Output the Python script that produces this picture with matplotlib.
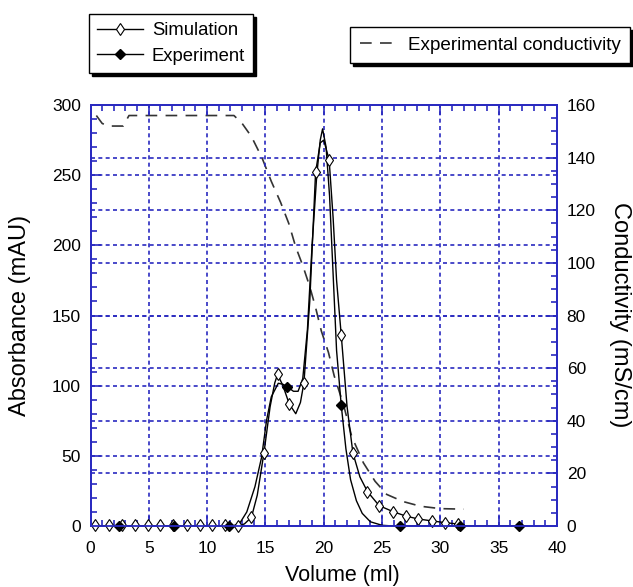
import matplotlib
matplotlib.use("Agg")
import matplotlib.pyplot as plt
from matplotlib.lines import Line2D
from matplotlib.ticker import MultipleLocator

plt.rcParams['font.family'] = ['Liberation Sans', 'DejaVu Sans']

# ---------------- data ----------------
# Simulation absorbance curve (mAU)
sim_x = [0.0, 1.0, 2.0, 3.0, 4.0, 5.0, 6.0, 7.0, 8.0, 9.0, 10.0, 11.0, 12.0, 12.7,
         13.2, 13.8, 14.3, 14.87, 15.4, 15.8, 16.04, 16.5, 17.04, 17.6, 18.0, 18.3,
         18.8, 19.3, 19.7, 20.0, 20.46, 20.8, 21.1, 21.5, 22.0, 22.5, 23.1, 23.75,
         24.75, 25.95, 27.03, 28.1, 29.3, 30.4, 31.5, 32.0]
sim_y = [0, 0, 0, 0, 0, 0, 0, 0, 0, 0, 0, 0, 0, 0,
         1.5, 6.2, 22, 52, 85, 102, 108, 100, 87, 80, 88, 102,
         160, 252, 273, 275, 261, 220, 175, 136, 85, 52, 35, 24.5,
         14.5, 10.2, 7.1, 5.0, 3.6, 2.4, 1.4, 1.0]
# Simulation marker positions
sim_mx = [0.39, 1.6, 2.7, 3.8, 4.95, 5.96, 7.1, 8.24, 9.38, 10.4, 11.5, 12.67,
          13.8, 14.87, 16.04, 17.04, 18.3, 19.3, 20.46, 21.5, 22.5, 23.75, 24.75,
          25.95, 27.03, 28.1, 29.3, 30.4, 31.5]
sim_my = [0.8, 0.8, 0.8, 0.5, 0.5, 0.5, 0.5, 0.5, 0.5, 0.5, 0.5, 0,
          6.2, 52, 108, 87, 102, 252, 261, 136, 52, 24.5, 14.5,
          10.2, 7.1, 5.0, 3.6, 2.4, 1.4]

# Experimental absorbance curve (mAU)
exp_x = [0.0, 5.0, 10.0, 12.2, 12.8, 13.4, 14.1, 14.67, 15.1, 15.5, 16.1, 16.5,
         16.86, 17.4, 17.8, 18.2, 18.6, 19.0, 19.4, 19.7, 19.9, 20.2, 20.5, 20.8,
         21.1, 21.5, 21.9, 22.3, 22.8, 23.3, 24.0, 25.0, 26.0, 30.0, 37.0]
exp_y = [0, 0, 0, 0, 2, 10, 28, 49, 75.5, 92, 101.7, 101,
         99.3, 96, 96, 105, 140, 200, 250, 275, 283, 270, 235, 180,
         125, 86, 55, 33, 18, 9, 3, 0.5, 0, 0, 0]
# Experiment marker positions
exp_mx = [2.47, 7.2, 11.87, 16.86, 21.5, 26.5, 31.66, 36.7]
exp_my = [0, 0, 0, 99.3, 86, 0, 0, 0]

# Experimental conductivity (mS/cm)
cond_x = [0.5, 1.0, 1.5, 2.8, 3.3, 12.3, 13.0, 13.8, 14.7, 15.5, 16.3, 17.0,
          17.6, 18.2, 18.8, 19.3, 19.8, 20.4, 20.9, 21.7, 22.4, 23.4, 24.4,
          25.4, 26.8, 28.3, 30.0, 32.0]
cond_y = [156, 153, 152, 152, 156, 156, 153, 148, 140, 131, 123, 115,
          106, 99, 91, 83, 74, 66, 57, 46, 34, 24, 17,
          12, 9.3, 7.5, 6.6, 6.4]

x_ticks = [0, 5, 10, 15, 20, 25, 30, 35, 40]
left_ticks = [0, 50, 100, 150, 200, 250, 300]
right_ticks = [0, 20, 40, 60, 80, 100, 120, 140, 160]

# ---------------- figure ----------------
W, H = 633, 587
BLUE = '#2a2ac0'
fig = plt.figure(figsize=(W / 100, H / 100), dpi=100)
ax = fig.add_axes([90.5 / W, 61 / H, (557 - 90.5) / W, (526 - 105) / H])
ax2 = ax.twinx()
ax.set_zorder(ax2.get_zorder() + 1)
ax.patch.set_visible(False)

grid_kw = dict(color=BLUE, linestyle=(0, (2.4, 2.0)), linewidth=1.2)

ax.set_xlim(0, 40)
ax.set_ylim(0, 300)
ax2.set_ylim(0, 160)
ax.set_xticks(x_ticks)
ax.set_yticks(left_ticks)
ax2.set_yticks(right_ticks)
ax.xaxis.set_minor_locator(MultipleLocator(1))
ax.yaxis.set_minor_locator(MultipleLocator(10))
ax2.yaxis.set_minor_locator(MultipleLocator(5))

ax.grid(True, which='major', axis='both', **grid_kw)
ax2.grid(True, which='major', axis='y', **grid_kw)

for a in (ax, ax2):
    for s in a.spines.values():
        s.set_color(BLUE)
        s.set_linewidth(1.3)

ax.tick_params(axis='x', which='both', direction='in', top=True, bottom=True,
               color=BLUE, labelsize=12.5, pad=10.5)
ax.tick_params(axis='y', which='both', direction='in', left=True, right=False,
               color=BLUE, labelsize=12.5, pad=7)
ax2.tick_params(axis='y', which='both', direction='in', right=True,
                color=BLUE, labelsize=12.5, pad=7)
for a in (ax, ax2):
    a.tick_params(which='major', length=7, width=1.2)
    a.tick_params(which='minor', length=4, width=1.2)

# conductivity
ax2.plot(cond_x, cond_y, color='#333333', linewidth=1.2, linestyle=(0, (7, 5)))

# absorbance curves
ax.plot(sim_x, sim_y, color='black', linewidth=1.0)
ax.plot(exp_x, exp_y, color='black', linewidth=1.0)
ax.plot(sim_mx, sim_my, linestyle='none', marker='d', markersize=6,
        markerfacecolor='white', markeredgecolor='black', markeredgewidth=0.8,
        clip_on=False)
ax.plot(exp_mx, exp_my, linestyle='none', marker='D', markersize=5,
        markerfacecolor='black', markeredgecolor='black', clip_on=False)

# axis titles
fig.text(342 / W, 1 - 576 / H, 'Volume (ml)', fontsize=15.5, ha='center', va='center')
fig.text(20 / W, 1 - 315 / H, 'Absorbance (mAU)', fontsize=17, rotation=90,
         ha='center', va='center')
fig.text(620 / W, 1 - 315 / H, 'Conductivity (mS/cm)', fontsize=17, rotation=270,
         ha='center', va='center')

# legends
h_sim = Line2D([], [], color='black', linewidth=1.0, marker='d', markersize=6,
               markerfacecolor='white', markeredgecolor='black', markeredgewidth=0.8)
h_exp = Line2D([], [], color='black', linewidth=1.0, marker='D', markersize=5,
               markerfacecolor='black')
h_cond = Line2D([], [], color='#333333', linewidth=1.2, linestyle=(0, (7, 5)))

leg1 = fig.legend([h_sim, h_exp], ['Simulation', 'Experiment'],
                  loc='upper left', bbox_to_anchor=(89 / W, 1 - 14 / H),
                  fontsize=13.3, frameon=True, fancybox=False, framealpha=1,
                  edgecolor='black', shadow={'color': 'black', 'alpha': 1},
                  handlelength=2.5, handletextpad=0.45, borderpad=0.45,
                  labelspacing=0.45, numpoints=1, borderaxespad=0)
leg1.get_frame().set_linewidth(1.0)
leg2 = fig.legend([h_cond], ['Experimental conductivity'],
                  loc='upper right', bbox_to_anchor=(630 / W, 1 - 27 / H),
                  fontsize=13.6, frameon=True, fancybox=False, framealpha=1,
                  edgecolor='black', shadow={'color': 'black', 'alpha': 1},
                  handlelength=1.9, handletextpad=0.65, borderpad=0.5,
                  borderaxespad=0)
leg2.get_frame().set_linewidth(1.0)

fig.savefig('out.png', dpi=100)
